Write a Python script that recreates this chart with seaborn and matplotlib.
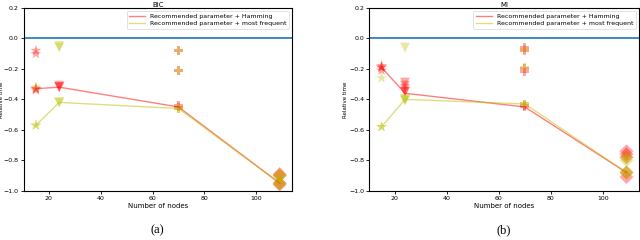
import matplotlib
matplotlib.use("Agg")
import matplotlib.pyplot as plt
import seaborn as sns
import pandas as pd

nodes = [15, 24, 70, 109]
methods = ["Recommended parameter + Hamming", "Recommended parameter + most frequent"]

# line values (recommended parameter)
bic_hamming_line = [-0.33, -0.32, -0.45, -0.95]
bic_frequent_line = [-0.57, -0.42, -0.46, -0.95]
mi_hamming_line = [-0.19, -0.36, -0.45, -0.88]
mi_frequent_line = [-0.58, -0.40, -0.43, -0.88]

# scattered trial values per node count
bic_hamming_pts = {15: [-0.33, -0.33, -0.34, -0.08, -0.10],
                   24: [-0.32, -0.32, -0.31],
                   70: [-0.45, -0.44, -0.08, -0.21],
                   109: [-0.90, -0.95, -0.89, -0.96]}
bic_frequent_pts = {15: [-0.32, -0.57, -0.57],
                    24: [-0.05, -0.06, -0.42, -0.42],
                    70: [-0.08, -0.46, -0.46, -0.21],
                    109: [-0.90, -0.95, -0.90, -0.95]}
mi_hamming_pts = {15: [-0.19, -0.19, -0.18, -0.21],
                  24: [-0.35, -0.35, -0.29, -0.31, -0.33],
                  70: [-0.45, -0.44, -0.06, -0.08, -0.20, -0.22],
                  109: [-0.74, -0.76, -0.88, -0.91, -0.78]}
mi_frequent_pts = {15: [-0.26, -0.58, -0.58],
                   24: [-0.06, -0.40, -0.41, -0.40],
                   70: [-0.43, -0.43, -0.07, -0.19],
                   109: [-0.78, -0.80, -0.88, -0.88]}

titles = ["BIC", "MI"]
captions = ["(a)", "(b)"]

palette = {methods[0]: "#ff0000", methods[1]: "#bfbf00"}
marker_map = {15: "*", 24: "v", 70: "P", 109: "D"}
size_map = {15: 70, 24: 50, 70: 40, 109: 50}

def pts_df(h, f):
    rows = []
    for m, d in zip(methods, [h, f]):
        for n, vals in d.items():
            for v in vals:
                rows.append({"nodes": n, "time": v, "method": m})
    return pd.DataFrame(rows)

def line_df(h, f):
    rows = []
    for m, vals in zip(methods, [h, f]):
        for n, v in zip(nodes, vals):
            rows.append({"nodes": n, "time": v, "method": m})
    return pd.DataFrame(rows)

fig = plt.figure(figsize=(6.4, 2.4), dpi=100)
positions = [[0.037, 0.205, 0.419, 0.762], [0.577, 0.205, 0.421, 0.762]]
data = [(bic_hamming_line, bic_frequent_line, bic_hamming_pts, bic_frequent_pts),
        (mi_hamming_line, mi_frequent_line, mi_hamming_pts, mi_frequent_pts)]

for i, (hl, fl, hp, fp) in enumerate(data):
    ax = fig.add_axes(positions[i])
    sdf = pts_df(hp, fp)
    sns.scatterplot(data=sdf, x="nodes", y="time", hue="method", style="nodes",
                    size="nodes", sizes=size_map,
                    markers=marker_map, palette=palette, alpha=0.35,
                    linewidth=0, legend=False, ax=ax)
    ldf = line_df(hl, fl)
    sns.lineplot(data=ldf, x="nodes", y="time", hue="method", palette=palette,
                 alpha=0.5, linewidth=1.0, ax=ax)
    ax.axhline(0, color="#1f77b4", linewidth=1.2)
    ax.set_ylim(-1.0, 0.2)
    ax.set_yticks([-1.0, -0.8, -0.6, -0.4, -0.2, 0.0, 0.2])
    ax.set_xticks([20, 40, 60, 80, 100])
    ax.tick_params(labelsize=4.5, length=2, width=0.6, pad=1.5)
    for sp in ax.spines.values():
        sp.set_linewidth(0.8)
    ax.set_xlabel("Number of nodes", fontsize=5, labelpad=2)
    ax.set_ylabel("Relative time", fontsize=4)
    ax.yaxis.set_label_coords(-0.073 if i == 0 else -0.08, 0.5)
    ax.set_title(titles[i], fontsize=5, pad=1)
    leg = ax.legend(loc="upper right", fontsize=4.5, frameon=True,
                    handlelength=2.5, borderpad=0.4, labelspacing=0.3)
    leg.get_frame().set_linewidth(0.5)
    for lh in leg.get_lines():
        lh.set_linewidth(1.0)
    fig.text(positions[i][0] + positions[i][2] / 2, 0.04, captions[i],
             ha="center", va="center", fontsize=9, family="Liberation Serif")

fig.savefig("out.png", dpi=100)
